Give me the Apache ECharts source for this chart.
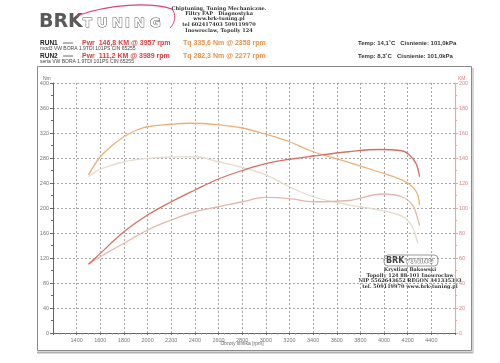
<!DOCTYPE html>
<html><head><meta charset="utf-8">
<script src="https://cdn.jsdelivr.net/npm/echarts@6/dist/echarts.min.js"></script>
<style>html,body{margin:0;padding:0;background:#fff}#c{width:500px;height:363px}</style>
</head><body><div id="c"></div>
<script>
// ---- data ----
var rpmTq1 = [1500,1600,1700,1800,1900,2000,2200,2358,2600,2800,3000,3200,3400,3700,3950,4150,4240,4285,4300];
var tq1    = [253,282,300,314,324,330,334,335.6,333,328,318,306,290,273,258,245,234,221,205];
var rpmPw1 = [1500,1600,1800,2000,2200,2400,2600,2800,3000,3200,3400,3700,3957,4150,4215,4270,4300];
var pw1    = [55,63.7,81,94.4,105,114.4,123.2,130,135.5,139,141.6,145,146.8,145.8,142.4,135.7,125];
var rpmTq2 = [1500,1600,1800,2000,2277,2400,2600,2800,3000,3200,3400,3700,3950,4150,4230,4270,4285];
var tq2    = [250,262,274,279.5,282.3,282,274,265,253,234,218,205,197,187,173,154,143];
var rpmPw2 = [1500,1600,1800,2000,2200,2400,2600,2800,3000,3200,3400,3700,3989,4150,4240,4280,4300];
var pw2    = [55,61,71.8,82.4,90.4,97,101,105,108.5,107.5,105,106,111.2,109,102.4,93,86];

var runNames = ['RUN1','RUN2'];
var runDesc  = ['mod3 VW BORA 1.9TDI 101PS CIN 65255','seria VW BORA 1.9TDI 101PS CIN 65255'];
var runPwr   = ['Pwr  146,8 KM @ 3957 rpm','Pwr  111,2 KM @ 3989 rpm'];
var runTq    = ['Tq 335,6 Nm @ 2358 rpm','Tq 282,3 Nm @ 2277 rpm'];
var runEnv   = ['Temp: 14,1\u02daC   Cisnienie: 101,0kPa','Temp: 8,3\u02daC   Cisnienie: 101,0kPa'];
var headerLines = ['Chiptuning, Tuning Mechaniczne.','Filtry FAP   Diagnostyka','www.brk-tuning.pl','tel 602417403 509119970','Inowroclaw, Topolly 124'];
var stampLines = ['Krystian Bakowski','Topolly 124 88-101 Inowroclaw','NIP 5562643652 REGON 341335393','tel. 509119970 www.brk-tuning.pl'];

function pairs(x,y){return x.map(function(v,i){return [v,y[i]];});}

var chart = echarts.init(document.getElementById('c'), null, {renderer:'canvas'});
var F = 'Liberation Sans, Arial, sans-serif';
var gridDash = {color:'#909090', type:[2,2], width:0.8};

var g = [];
// frame
g.push({type:'rect', shape:{x:37.5,y:66.5,width:434,height:284}, style:{fill:'none',stroke:'#8a8a8a',lineWidth:1}, z:0});
g.push({type:'line', shape:{x1:37,y1:352.5,x2:473,y2:352.5}, style:{stroke:'#b0b0b0',lineWidth:2}});
g.push({type:'line', shape:{x1:473,y1:68,x2:473,y2:353}, style:{stroke:'#c8c8c8',lineWidth:1.5}});
// logo
g.push({type:'text', left:39, top:13, style:{text:'BRK', font:'900 19px "DejaVu Sans", sans-serif', fill:'#5a5a5a'}});
var lt = ['T','U','N','I','N','G'];
var lx = [83,97,112,125,134,150];
lt.forEach(function(ch,i){
  g.push({type:'text', x:lx[i], y:17, style:{text:ch, font:'bold 13px "DejaVu Sans", sans-serif', fill:'#fff', stroke:'#555', lineWidth:1}});
});
g.push({type:'bezierCurve', shape:{x1:76,y1:16,cpx1:110,cpy1:4,cpx2:150,cpy2:2,x2:172,y2:9}, style:{stroke:'#e0407a',lineWidth:1.2,fill:'none'}});
g.push({type:'bezierCurve', shape:{x1:172,y1:9,cpx1:176,cpy1:14,cpx2:176,cpy2:22,x2:170,y2:28}, style:{stroke:'#e0407a',lineWidth:1,fill:'none'}});
// header text
var hy=[9,14,19,24.5,31];
headerLines.forEach(function(t,i){
  g.push({type:'text', x:219, y:hy[i], style:{text:t, font:'bold 5px "DejaVu Serif", serif', fill:'#333', textAlign:'center', textVerticalAlign:'middle'}});
});
// runs
[0,1].forEach(function(i){
  var y = i===0 ? 43 : 56;
  g.push({type:'text', x:40, y:y, style:{text:runNames[i], font:'bold 6.5px '+F, fill:'#222', textVerticalAlign:'middle'}});
  g.push({type:'line', shape:{x1:63,y1:y,x2:73,y2:y}, style:{stroke:'#444',lineWidth:0.8}});
  g.push({type:'text', x:82, y:y, style:{text:runPwr[i], font:'bold 7px '+F, fill:'#e03a3a', textVerticalAlign:'middle'}});
  g.push({type:'text', x:183, y:y, style:{text:runTq[i], font:'bold 7px '+F, fill:'#e8924a', textVerticalAlign:'middle'}});
  g.push({type:'text', x:358, y:y, style:{text:runEnv[i], font:'bold 6px '+F, fill:'#333', textVerticalAlign:'middle'}});
  g.push({type:'text', x:40, y:y+6, style:{text:runDesc[i], font:'5px '+F, fill:'#444', textVerticalAlign:'middle'}});
});
// axis titles
g.push({type:'text', x:43, y:79, style:{text:'Nm', font:'5px '+F, fill:'#666', textVerticalAlign:'middle'}});
g.push({type:'text', x:458, y:79, style:{text:'KM', font:'5px '+F, fill:'#d77', textVerticalAlign:'middle'}});
g.push({type:'text', x:242, y:344, style:{text:'Obroty silnika [rpm]', font:'5px '+F, fill:'#666', textAlign:'center', textVerticalAlign:'middle'}});
// stamp
g.push({type:'text', x:386, y:257, style:{text:'BRK', font:'900 8px "DejaVu Sans", sans-serif', fill:'#444'}});
g.push({type:'text', x:405, y:258, style:{text:'TUNING', font:'bold 6.5px "DejaVu Sans", sans-serif', fill:'#fff', stroke:'#444', lineWidth:0.6}});
g.push({type:'rect', shape:{x:384,y:255,width:54,height:11,r:4}, style:{fill:'none',stroke:'#555',lineWidth:0.6}});
var sy=[270,275.5,281,286.5];
stampLines.forEach(function(t,i){
  g.push({type:'text', x:410, y:sy[i], style:{text:t, font:'bold 5px "DejaVu Serif", serif', fill:'#333', textAlign:'center', textVerticalAlign:'middle'}});
});

var opt = {
  animation:false,
  backgroundColor:'#fff',
  grid:{left:53,right:45,top:83,bottom:30},
  xAxis:{type:'value',min:1200,max:4600,interval:200,
    axisLine:{lineStyle:{color:'#666',width:1}},
    axisTick:{show:true,length:2,lineStyle:{color:'#666'}},
    minorTick:{show:true,splitNumber:4,length:1.5,lineStyle:{color:'#888'}},
    axisLabel:{fontSize:5.5,color:'#777',fontFamily:F,margin:4,
      formatter:function(v){return (v===1200||v===4600)?'':String(v);}},
    splitLine:{show:true,lineStyle:gridDash}},
  yAxis:[
    {type:'value',min:0,max:400,interval:40,position:'left',
     axisLine:{show:true,lineStyle:{color:'#666',width:1}},
     axisTick:{show:true,length:3,lineStyle:{color:'#666'}},
     minorTick:{show:true,splitNumber:2,length:2,lineStyle:{color:'#666'}},
     axisLabel:{fontSize:5.5,color:'#777',fontFamily:F,margin:4},
     splitLine:{show:true,lineStyle:gridDash}},
    {type:'value',min:0,max:200,interval:20,position:'right',
     axisLine:{show:true,lineStyle:{color:'#e8a8a8',width:1.2}},
     axisTick:{show:true,length:3,lineStyle:{color:'#e8a8a8'}},
     minorTick:{show:true,splitNumber:2,length:2,lineStyle:{color:'#e8a8a8'}},
     axisLabel:{fontSize:5.5,color:'#d88',fontFamily:F,margin:4},
     splitLine:{show:false}}
  ],
  series:[
    {name:'RUN2 Tq',type:'line',yAxisIndex:0,data:pairs(rpmTq2,tq2),smooth:0.4,showSymbol:false,lineStyle:{color:'#e6dacb',width:1.3}},
    {name:'RUN2 Pwr',type:'line',yAxisIndex:1,data:pairs(rpmPw2,pw2),smooth:0.4,showSymbol:false,lineStyle:{color:'#e6b6a8',width:1.3}},
    {name:'RUN1 Tq',type:'line',yAxisIndex:0,data:pairs(rpmTq1,tq1),smooth:0.4,showSymbol:false,lineStyle:{color:'#ebb077',width:1.3}},
    {name:'RUN1 Pwr',type:'line',yAxisIndex:1,data:pairs(rpmPw1,pw1),smooth:0.4,showSymbol:false,lineStyle:{color:'#d66e62',width:1.3}}
  ],
  graphic:g
};
chart.setOption(opt);
</script></body></html>
